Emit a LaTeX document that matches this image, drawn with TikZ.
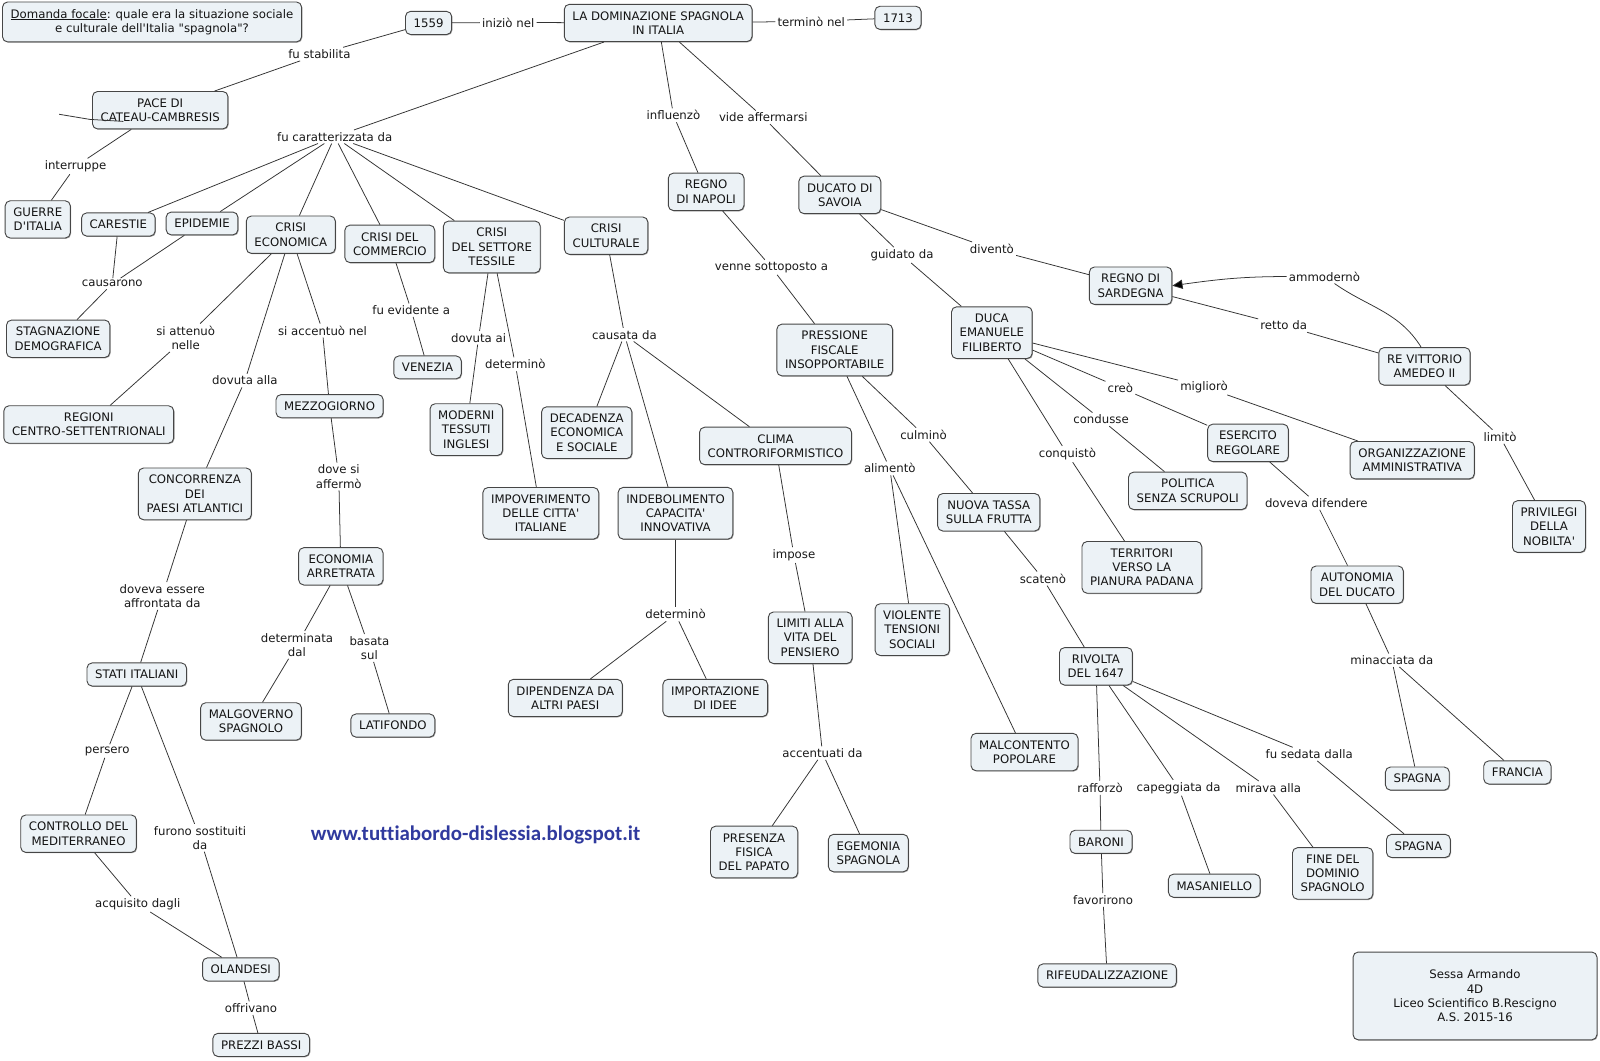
\documentclass[tikz,border=0pt]{standalone}
\usepackage{fontspec}
\setmainfont{DejaVu Sans}
\newfontfamily\urlfont[Ligatures=NoCommon]{Carlito}
\usetikzlibrary{arrows.meta,shadows}
\definecolor{boxfill}{RGB}{236,242,246}
\definecolor{boxline}{RGB}{70,70,70}
\definecolor{urlblue}{RGB}{48,58,158}
\newcommand{\q}{\textquotesingle}
\tikzset{
  cbox/.style={draw=boxline, fill=boxfill, rounded corners=5bp, line width=0.9bp,
    align=center, inner xsep=8bp, inner ysep=7bp,
    drop shadow={shadow xshift=0.8bp, shadow yshift=-0.8bp, fill=black, opacity=0.35},
    font=\fontsize{11.5bp}{14bp}\selectfont, text=black!92},
  lbl/.style={align=center, inner sep=2bp,
    font=\fontsize{11.5bp}{14bp}\selectfont, text=black!90},
  conn/.style={draw=black!80, line width=0.75bp},
}
\begin{document}
\begin{tikzpicture}[x=1bp,y=-1bp]
\useasboundingbox (0,0) rectangle (1568,1039);
\fill[white] (0,0) rectangle (1568,1039);

% ---------- concept nodes ----------
\node[cbox] (domanda) at (149,21.5) {\underline{Domanda focale}: quale era la situazione sociale\\e culturale dell\q Italia \textquotedbl spagnola\textquotedbl ?};
\node[cbox] (y1559) at (420,22.5) {1559};
\node[cbox] (dom) at (645,22.5) {LA DOMINAZIONE SPAGNOLA\\IN ITALIA};
\node[cbox] (y1713) at (880,17.5) {1713};
\node[cbox] (pace) at (157,108) {PACE DI\\CATEAU-CAMBRESIS};
\node[cbox] (guerre) at (37,215) {GUERRE\\D\q ITALIA};
\node[cbox] (carestie) at (116,220) {CARESTIE};
\node[cbox] (epidemie) at (198,219) {EPIDEMIE};
\node[cbox] (crisiec) at (285,230) {CRISI\\ECONOMICA};
\node[cbox] (crisicom) at (382,239) {CRISI DEL\\COMMERCIO};
\node[cbox] (crisitex) at (482,242) {CRISI\\DEL SETTORE\\TESSILE};
\node[cbox] (crisicul) at (594,231) {CRISI\\CULTURALE};
\node[cbox] (stagn) at (57,332) {STAGNAZIONE\\DEMOGRAFICA};
\node[cbox] (regioni) at (87,416) {REGIONI\\CENTRO-SETTENTRIONALI};
\node[cbox] (mezzog) at (323,398) {MEZZOGIORNO};
\node[cbox] (venezia) at (419,360) {VENEZIA};
\node[cbox] (moderni) at (457,421) {MODERNI\\TESSUTI\\INGLESI};
\node[cbox] (decad) at (575,424) {DECADENZA\\ECONOMICA\\E SOCIALE};
\node[cbox] (clima) at (760,437) {CLIMA\\CONTRORIFORMISTICO};
\node[cbox] (concor) at (191,484) {CONCORRENZA\\DEI\\PAESI ATLANTICI};
\node[cbox] (impov) at (530,503) {IMPOVERIMENTO\\DELLE CITTA\q\\ITALIANE};
\node[cbox] (indeb) at (662,503) {INDEBOLIMENTO\\CAPACITA\q\\INNOVATIVA};
\node[cbox] (econarr) at (334,555) {ECONOMIA\\ARRETRATA};
\node[cbox] (stati) at (134,661) {STATI ITALIANI};
\node[cbox] (malgov) at (246,707) {MALGOVERNO\\SPAGNOLO};
\node[cbox] (latif) at (385,711) {LATIFONDO};
\node[cbox] (dipend) at (554,684) {DIPENDENZA DA\\ALTRI PAESI};
\node[cbox] (import) at (701,684) {IMPORTAZIONE\\DI IDEE};
\node[cbox] (limiti) at (794,625) {LIMITI ALLA\\VITA DEL\\PENSIERO};
\node[cbox] (presenza) at (739,835) {PRESENZA\\FISICA\\DEL PAPATO};
\node[cbox] (egemonia) at (851,836) {EGEMONIA\\SPAGNOLA};
\node[cbox] (controllo) at (77,817) {CONTROLLO DEL\\MEDITERRANEO};
\node[cbox] (olandesi) at (236,950) {OLANDESI};
\node[cbox] (prezzi) at (256,1024) {PREZZI BASSI};
\node[cbox] (napoli) at (692,188) {REGNO\\DI NAPOLI};
\node[cbox] (savoia) at (823,191) {DUCATO DI\\SAVOIA};
\node[cbox] (pressione) at (818,343) {PRESSIONE\\FISCALE\\INSOPPORTABILE};
\node[cbox] (duca) at (972,326) {DUCA\\EMANUELE\\FILIBERTO};
\node[cbox] (sardegna) at (1108,280) {REGNO DI\\SARDEGNA};
\node[cbox] (revitt) at (1396,359) {RE VITTORIO\\AMEDEO II};
\node[cbox] (nuovatassa) at (969,502) {NUOVA TASSA\\SULLA FRUTTA};
\node[cbox] (violente) at (894,617) {VIOLENTE\\TENSIONI\\SOCIALI};
\node[cbox] (malcont) at (1004,737) {MALCONTENTO\\POPOLARE};
\node[cbox] (esercito) at (1223,434) {ESERCITO\\REGOLARE};
\node[cbox] (organiz) at (1384,451) {ORGANIZZAZIONE\\AMMINISTRATIVA};
\node[cbox] (politica) at (1164,481) {POLITICA\\SENZA SCRUPOLI};
\node[cbox] (territori) at (1119,556) {TERRITORI\\VERSO LA\\PIANURA PADANA};
\node[cbox] (autonomia) at (1330,573) {AUTONOMIA\\DEL DUCATO};
\node[cbox] (privilegi) at (1518,516) {PRIVILEGI\\DELLA\\NOBILTA\q};
\node[cbox] (rivolta) at (1074,653) {RIVOLTA\\DEL 1647};
\node[cbox] (baroni) at (1079,825) {BARONI};
\node[cbox] (masaniello) at (1190,868) {MASANIELLO};
\node[cbox] (finedom) at (1306,856) {FINE DEL\\DOMINIO\\SPAGNOLO};
\node[cbox] (spagnaA) at (1389,763) {SPAGNA};
\node[cbox] (spagnaB) at (1390,829) {SPAGNA};
\node[cbox] (francia) at (1487,757) {FRANCIA};
\node[cbox] (rifeud) at (1085,956) {RIFEUDALIZZAZIONE};
\node[cbox, minimum width=239bp, minimum height=86bp] (author) at (1445.5,976) {Sessa Armando\\4D\\Liceo Scientifico B.Rescigno\\A.S. 2015-16};
\node[font=\urlfont\bfseries\fontsize{20.5bp}{24bp}\selectfont, text=urlblue] (url) at (466,818) {www.tuttiabordo-dislessia.blogspot.it};

% ---------- linking phrases ----------
\node[lbl] (lIniz) at (498,22) {iniziò nel};
\node[lbl] (lTerm) at (795,21) {terminò nel};
\node[lbl] (lStab) at (313,53) {fu stabilita};
\node[lbl] (lCaratt) at (328,134) {fu caratterizzata da};
\node[lbl] (lInterr) at (74,163) {interruppe};
\node[lbl] (lCaus) at (110,278) {causarono};
\node[lbl] (lAtten) at (182,331) {si attenuò\\nelle};
\node[lbl] (lDovAlla) at (240,373) {dovuta alla};
\node[lbl] (lAccent) at (316,324) {si accentuò nel};
\node[lbl] (lEvid) at (403,304) {fu evidente a};
\node[lbl] (lDovAi) at (469,331) {dovuta ai};
\node[lbl] (lDetTex) at (505,357) {determinò};
\node[lbl] (lCausata) at (612,328) {causata da};
\node[lbl] (lInfl) at (660,113) {influenzò};
\node[lbl] (lVide) at (748,115) {vide affermarsi};
\node[lbl] (lVenne) at (756,262) {venne sottoposto a};
\node[lbl] (lGuid) at (884,250) {guidato da};
\node[lbl] (lDiv) at (972,244) {diventò};
\node[lbl] (lAmm) at (1298,271) {ammodernò};
\node[lbl] (lRetto) at (1258,319) {retto da};
\node[lbl] (lLimito) at (1470,428) {limitò};
\node[lbl] (lCulm) at (905,426) {culminò};
\node[lbl] (lAlim) at (872,459) {alimentò};
\node[lbl] (lCreo) at (1098,380) {creò};
\node[lbl] (lMigl) at (1180,379) {migliorò};
\node[lbl] (lCond) at (1079,411) {condusse};
\node[lbl] (lConq) at (1046,445) {conquistò};
\node[lbl] (lDovDif) at (1290,493) {doveva difendere};
\node[lbl] (lScat) at (1022,567) {scatenò};
\node[lbl] (lRaff) at (1078,772) {rafforzò};
\node[lbl] (lCapeg) at (1155,772) {capeggiata da};
\node[lbl] (lMirava) at (1243,772) {mirava alla};
\node[lbl] (lSedata) at (1283,739) {fu sedata dalla};
\node[lbl] (lMinacc) at (1364,647) {minacciata da};
\node[lbl] (lImpose) at (778,544) {impose};
\node[lbl] (lDetInd) at (662,602) {determinò};
\node[lbl] (lAccentuati) at (806,738) {accentuati da};
\node[lbl] (lDoveSi) at (332,467) {dove si\\affermò};
\node[lbl] (lDetDal) at (291,632) {determinata\\dal};
\node[lbl] (lBasata) at (362,635) {basata\\sul};
\node[lbl] (lDoveva) at (159,584) {doveva essere\\affrontata da};
\node[lbl] (lPersero) at (105,736) {persero};
\node[lbl] (lFurono) at (196,821) {furono sostituiti\\da};
\node[lbl] (lAcq) at (135,886) {acquisito dagli};
\node[lbl] (lOffr) at (246,988) {offrivano};
\node[lbl] (lFavor) at (1081,882) {favorirono};

% ---------- connectors ----------
\draw[conn] (dom) -- (lIniz) -- (y1559);
\draw[conn] (dom) -- (lTerm) -- (y1713);
\draw[conn] (y1559) -- (lStab) -- (pace);
\draw[conn] (dom) -- (lCaratt);
\foreach \t in {carestie,epidemie,crisiec,crisicom,crisitex,crisicul}
  \draw[conn] (lCaratt) -- (\t);
\draw[conn] (pace) -- (lInterr) -- (guerre);
\draw[conn] (carestie) -- (lCaus);
\draw[conn] (epidemie) -- (lCaus) -- (stagn);
\draw[conn] (crisiec) -- (lAtten) -- (regioni);
\draw[conn] (crisiec) -- (lDovAlla) -- (concor);
\draw[conn] (crisiec) -- (lAccent) -- (mezzog);
\draw[conn] (crisicom) -- (lEvid) -- (venezia);
\draw[conn] (crisitex) -- (lDovAi) -- (moderni);
\draw[conn] (crisitex) -- (lDetTex) -- (impov);
\draw[conn] (crisicul) -- (lCausata);
\foreach \t in {decad,indeb,clima} \draw[conn] (lCausata) -- (\t);
\draw[conn] (dom) -- (lInfl) -- (napoli);
\draw[conn] (dom) -- (lVide) -- (savoia);
\draw[conn] (napoli) -- (lVenne) -- (pressione);
\draw[conn] (savoia) -- (lGuid) -- (duca);
\draw[conn] (savoia) -- (lDiv) -- (sardegna);
\draw[conn] (sardegna) -- (lRetto) -- (revitt);
\draw[conn] (revitt.100) to[out=122,in=-35] (lAmm);
\draw[conn,-{Triangle[length=10bp,width=9bp,fill=black]}] (lAmm.west) to[out=180,in=8] (sardegna.east);
\draw[conn] (revitt) -- (lLimito) -- (privilegi);
\draw[conn] (pressione) -- (lCulm) -- (nuovatassa);
\draw[conn] (pressione) -- (lAlim);
\foreach \t in {violente,malcont} \draw[conn] (lAlim) -- (\t);
\draw[conn] (duca) -- (lCreo) -- (esercito);
\draw[conn] (duca) -- (lMigl) -- (organiz);
\draw[conn] (duca) -- (lCond) -- (politica);
\draw[conn] (duca) -- (lConq) -- (territori);
\draw[conn] (esercito) -- (lDovDif) -- (autonomia);
\draw[conn] (nuovatassa) -- (lScat) -- (rivolta);
\draw[conn] (rivolta) -- (lRaff) -- (baroni);
\draw[conn] (rivolta) -- (lCapeg) -- (masaniello);
\draw[conn] (rivolta) -- (lMirava) -- (finedom);
\draw[conn] (rivolta) -- (lSedata) -- (spagnaB);
\draw[conn] (autonomia) -- (lMinacc);
\foreach \t in {spagnaA,francia} \draw[conn] (lMinacc) -- (\t);
\draw[conn] (clima) -- (lImpose) -- (limiti);
\draw[conn] (indeb) -- (lDetInd);
\foreach \t in {dipend,import} \draw[conn] (lDetInd) -- (\t);
\draw[conn] (limiti) -- (lAccentuati);
\foreach \t in {presenza,egemonia} \draw[conn] (lAccentuati) -- (\t);
\draw[conn] (mezzog) -- (lDoveSi) -- (econarr);
\draw[conn] (econarr) -- (lDetDal) -- (malgov);
\draw[conn] (econarr) -- (lBasata) -- (latif);
\draw[conn] (concor) -- (lDoveva) -- (stati);
\draw[conn] (stati) -- (lPersero) -- (controllo);
\draw[conn] (stati) -- (lFurono) -- (olandesi);
\draw[conn] (controllo) -- (lAcq) -- (olandesi);
\draw[conn] (olandesi) -- (lOffr) -- (prezzi);
\draw[conn] (baroni) -- (lFavor) -- (rifeud);

% stray stroke across PACE DI CATEAU-CAMBRESIS
\coordinate (s1) at (58,112);
\coordinate (s2) at (88,117);
\coordinate (s3) at (121,119);
\draw[conn] (s1) -- (s2) -- (s3);
\end{tikzpicture}
\end{document}
